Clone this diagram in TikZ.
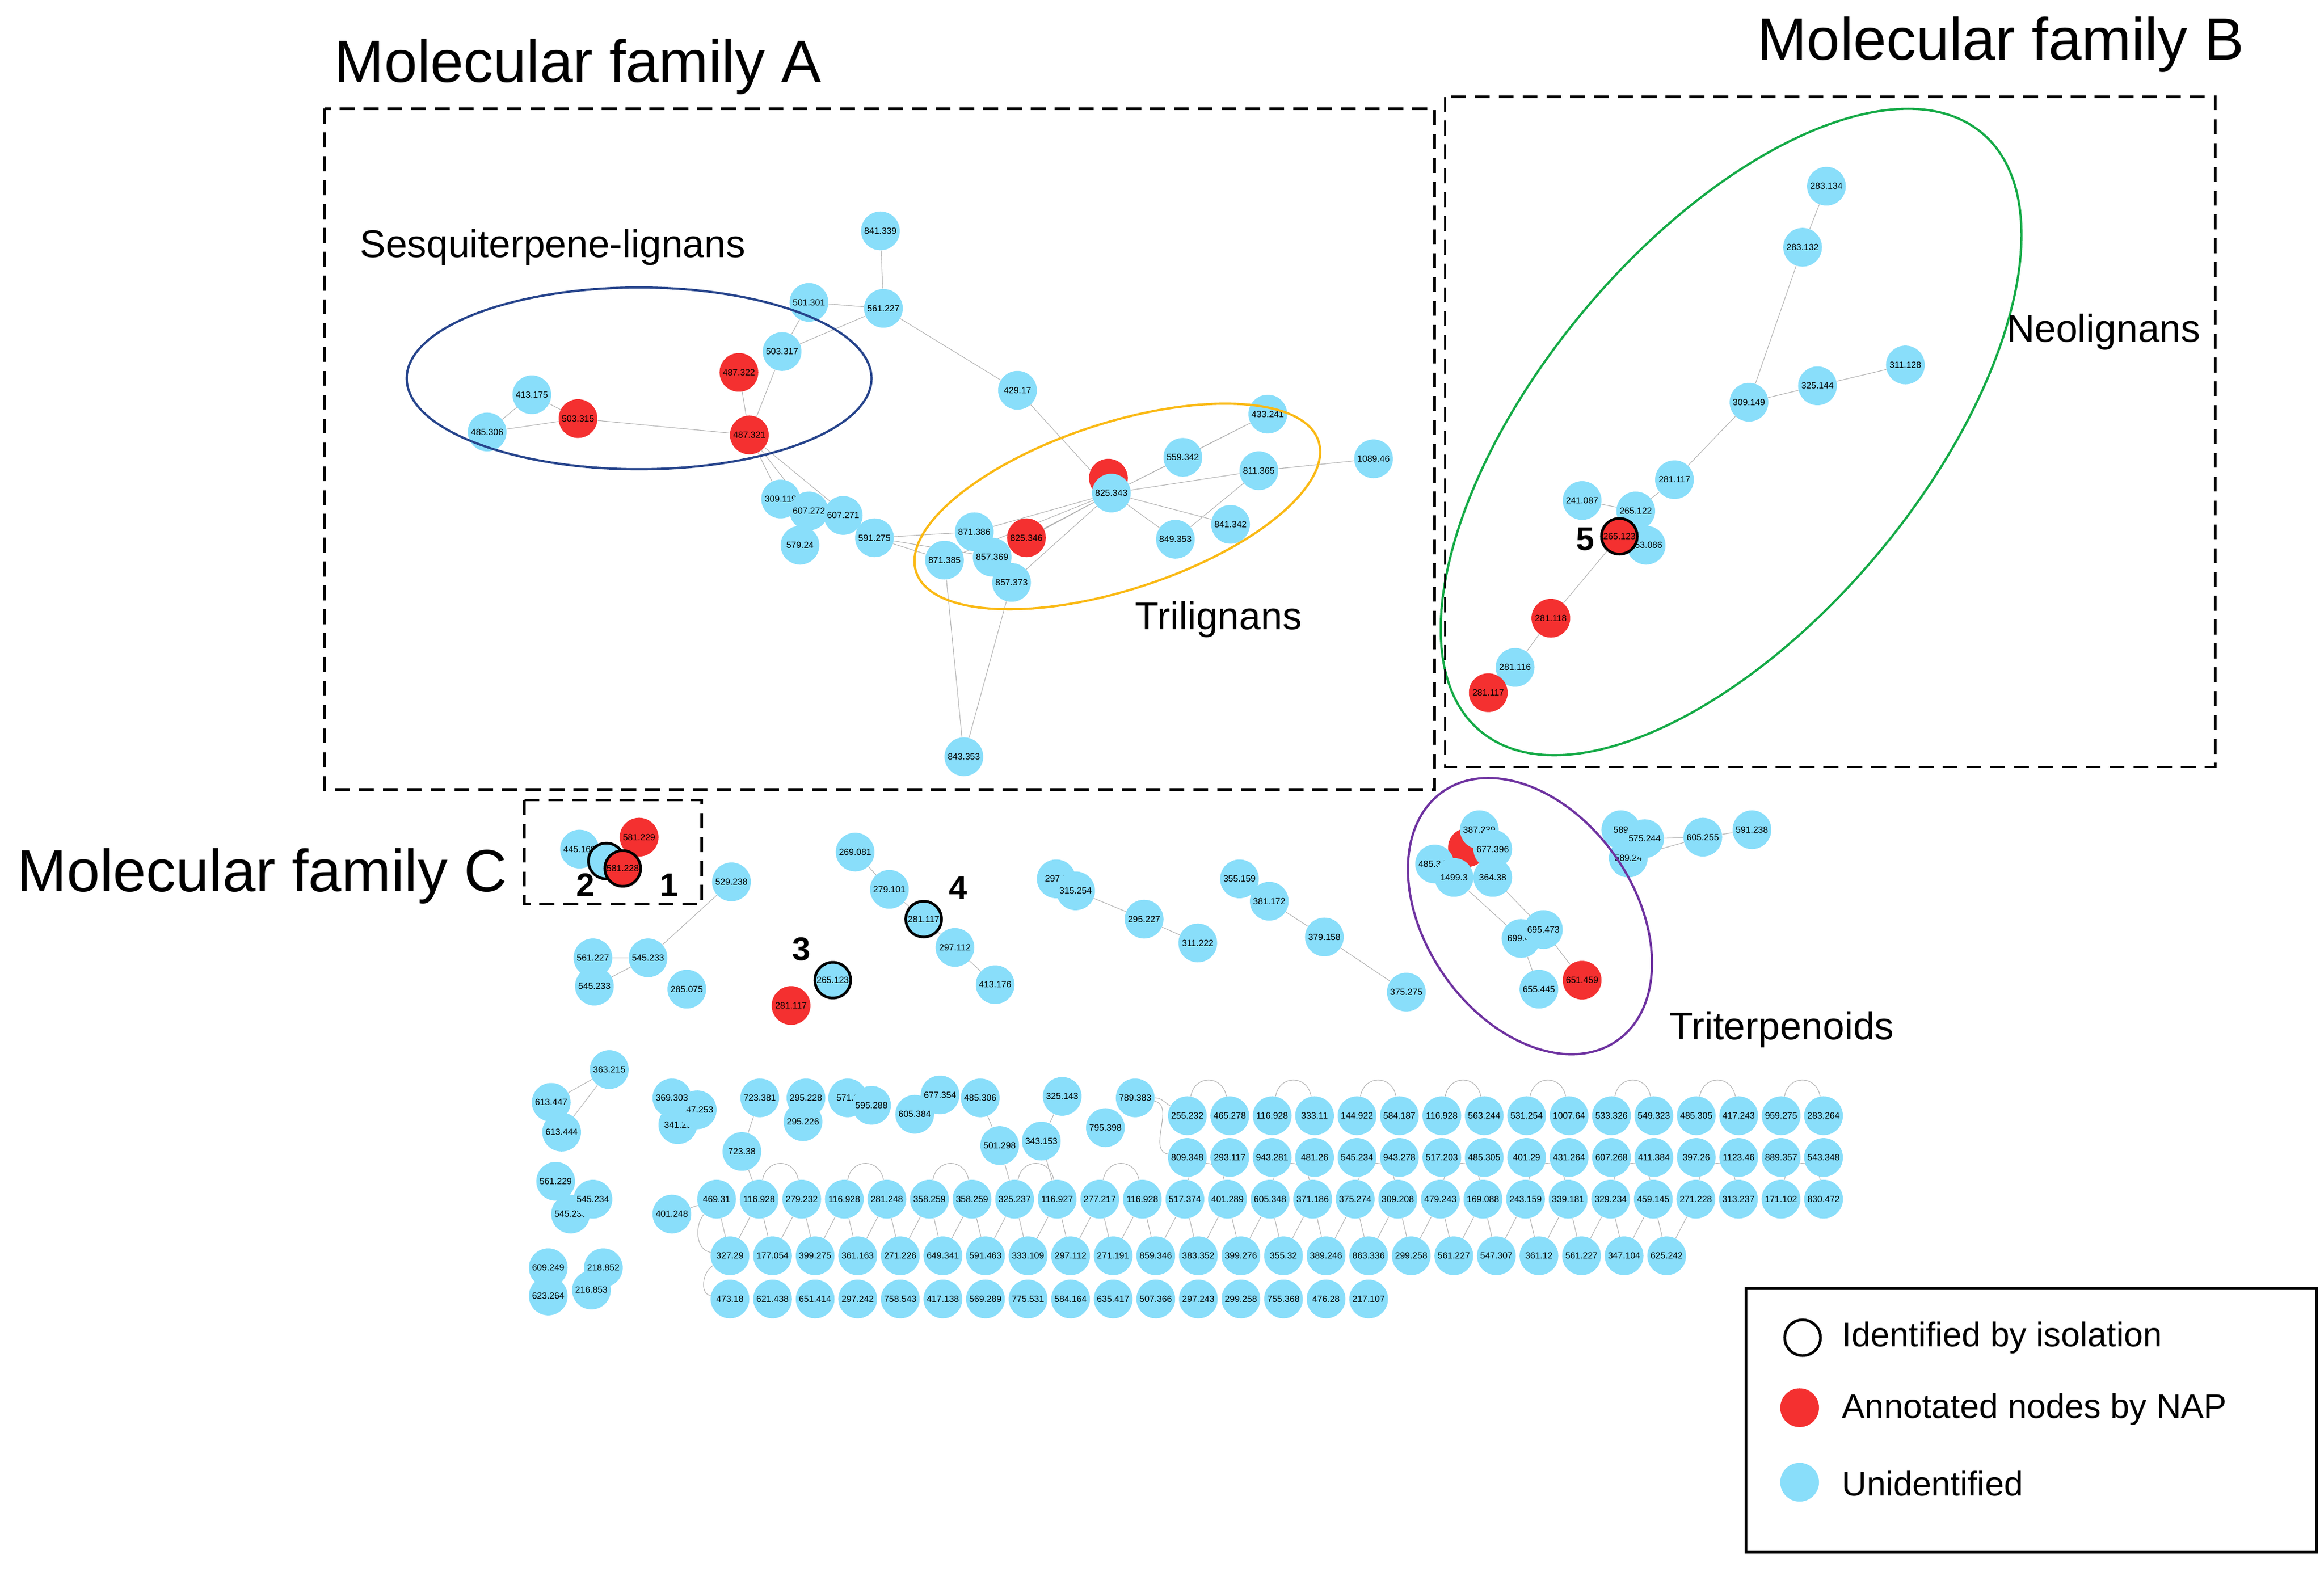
\documentclass[tikz,border=0pt]{standalone}
\usepackage{fontspec}
\setmainfont{Liberation Sans}
\usetikzlibrary{backgrounds}
\definecolor{nblue}{RGB}{137,222,250}
\definecolor{nred}{RGB}{244,48,48}
\definecolor{dblue}{RGB}{38,68,140}
\definecolor{orng}{RGB}{250,185,20}
\definecolor{grn}{RGB}{20,170,70}
\definecolor{purp}{RGB}{110,50,160}
\begin{document}
\begin{tikzpicture}[x=1pt,y=1pt,
  nd/.style={circle,minimum size=26pt,inner sep=0pt,font=\fontsize{6}{6}\selectfont},
  nb/.style={nd,fill=nblue},
  nr/.style={nd,fill=nred},
  iso/.style={draw=black,line width=1.8pt,minimum size=24pt},
  ed/.style={draw=gray!60,line width=0.4pt},
  box/.style={draw=black,dashed,line width=1.6pt,dash pattern=on 10pt off 6pt},
  ttl/.style={font=\fontsize{40}{40}\selectfont},
  sub/.style={font=\fontsize{26}{26}\selectfont},
  num/.style={font=\fontsize{22}{22}\selectfont\bfseries},
  leg/.style={font=\fontsize{23}{23}\selectfont,anchor=west}]
\useasboundingbox (0,0) rectangle (1560,-1055);

% ---------- family A ----------
\node[nb] (a1) at (591,-155) {841.339};
\node[nb] (a2) at (543,-203) {501.301};
\node[nb] (a3) at (593,-207) {561.227};
\node[nb] (a4) at (525,-236) {503.317};
\node[nr] (a5) at (496,-250) {487.322};
\node[nb] (a6) at (357,-265) {413.175};
\node[nr] (a7) at (388,-281) {503.315};
\node[nb] (a8) at (327,-290) {485.306};
\node[nr] (a9) at (503,-292) {487.321};
\node[nb] (a10) at (683,-262) {429.17};
\node[nb] (a11) at (524,-335) {309.119};
\node[nb] (a12) at (543,-343) {607.272};
\node[nb] (a13) at (566,-346) {607.271};
\node[nb] (a14) at (537,-366) {579.24};
\node[nb] (a15) at (587,-361) {591.275};
\node[nb] (a16) at (654,-357) {871.386};
\node[nr] (a17) at (689,-361) {825.346};
\node[nb] (a18) at (634,-376) {871.385};
\node[nb] (a20) at (679,-391) {857.373};
\node[nb] (a19) at (666,-374) {857.369};
\node[nr] (a21) at (744,-321) {};
\node[nb] (a22) at (746,-331) {825.343};
\node[nb] (a23) at (794,-307) {559.342};
\node[nb] (a24) at (851,-278) {433.241};
\node[nb] (a25) at (845,-316) {811.365};
\node[nb] (a26) at (922,-308) {1089.46};
\node[nb] (a27) at (826,-352) {841.342};
\node[nb] (a28) at (789,-362) {849.353};
\node[nb] (a29) at (647,-508) {843.353};

% ---------- family B ----------
\node[nb] (b1) at (1226,-125) {283.134};
\node[nb] (b2) at (1210,-166) {283.132};
\node[nb] (b3) at (1174,-270) {309.149};
\node[nb] (b4) at (1220,-259) {325.144};
\node[nb] (b5) at (1279,-245) {311.128};
\node[nb] (b6) at (1124,-322) {281.117};
\node[nb] (b7) at (1062,-336) {241.087};
\node[nb] (b8) at (1098,-343) {265.122};
\node[nb] (b9) at (1105,-366) {253.086};
\node[nr,iso] (b10) at (1087,-360) {265.123};
\node[nr] (b11) at (1041,-415) {281.118};
\node[nb] (b12) at (1017,-448) {281.116};
\node[nr] (b13) at (999,-465) {281.117};

% ---------- family C and middle ----------
\node[nb] (c1) at (389,-570) {445.168};
\node[nb,iso] (c2) at (407,-578) {};
\node[nr] (c3) at (429,-562) {581.229};
\node[nr,iso] (c4) at (418,-583) {581.228};
\node[nb] (c5) at (491,-592) {529.238};
\node[nb] (c6) at (398,-643) {561.227};
\node[nb] (c8) at (399,-662) {545.233};
\node[nb] (c7) at (435,-643) {545.233};
\node[nb] (c9) at (461,-664) {285.075};

\node[nb] (m1) at (574,-572) {269.081};
\node[nb] (m2) at (597,-597) {279.101};
\node[nb,iso] (m3) at (620,-617) {281.117};
\node[nb] (m4) at (641,-636) {297.112};
\node[nb] (m5) at (668,-661) {413.176};
\node[nr] (m7) at (531,-675) {281.117};
\node[nb,iso] (m6) at (559,-658) {265.123};

\node[nb] (p1) at (709,-590) {297.2};
\node[nb] (p2) at (722,-598) {315.254};
\node[nb] (p3) at (768,-617) {295.227};
\node[nb] (p4) at (804,-633) {311.222};
\node[nb] (q1) at (832,-590) {355.159};
\node[nb] (q2) at (852,-605) {381.172};
\node[nb] (q3) at (889,-629) {379.158};
\node[nb] (q4) at (944,-666) {375.275};

% triterpenoids
\node[nr] (t0) at (985,-569) {};
\node[nb] (t1) at (993,-557) {387.239};
\node[nb] (t2) at (1002,-570) {677.396};
\node[nb] (t3) at (963,-580) {485.349};
\node[nb] (t4) at (976,-589) {1499.3};
\node[nb] (t5) at (1002,-589) {364.38};
\node[nb] (t6) at (1021,-630) {699.45};
\node[nb] (t7) at (1036,-624) {695.473};
\node[nb] (t8) at (1033,-664) {655.445};
\node[nr] (t9) at (1062,-658) {651.459};
\node[nb] (u3) at (1093,-576) {589.24};
\node[nb] (u1) at (1088,-557) {589};
\node[nb] (u2) at (1104,-563) {575.244};
\node[nb] (u4) at (1143,-562) {605.255};
\node[nb] (u5) at (1176,-557) {591.238};

% ---------- lower left ----------
\node[nb] (l1) at (409,-718) {363.215};
\node[nb] (l2) at (370,-740) {613.447};
\node[nb] (l3) at (377,-760) {613.444};
\node[nb] (l4) at (455,-755) {341.25};
\node[nb] (l5) at (468,-745) {347.253};
\node[nb] (l6) at (451,-737) {369.303};
\node[nb] (l7) at (510,-737) {723.381};
\node[nb] (l8) at (498,-773) {723.38};
\node[nb] (l10) at (539,-753) {295.226};
\node[nb] (l9) at (541,-737) {295.228};
\node[nb] (l11) at (569,-737) {571.3};
\node[nb] (l12) at (585,-742) {595.288};
\node[nb] (l14) at (631,-735) {677.354};
\node[nb] (l13) at (614,-748) {605.384};
\node[nb] (l15) at (658,-737) {485.306};
\node[nb] (l16) at (671,-769) {501.298};
\node[nb] (l17) at (713,-736) {325.143};
\node[nb] (l18) at (699,-766) {343.153};
\node[nb] (l19) at (762,-737) {789.383};
\node[nb] (l20) at (742,-757) {795.398};
\node[nb] (l21) at (451,-815) {401.248};
\node[nb] (l24) at (383,-815) {545.233};
\node[nb] (l22) at (373,-793) {561.229};
\node[nb] (l23) at (398,-805) {545.234};
\node[nb] (l25) at (368,-851) {609.249};
\node[nb] (l26) at (368,-870) {623.264};
\node[nb] (l27) at (405,-851) {218.852};
\node[nb] (l28) at (397,-866) {216.853};

% ---------- grid ----------
\foreach \l [count=\i] in {255.232,465.278,116.928,333.11,144.922,584.187,116.928,563.244,531.254,1007.64,533.326,549.323,485.305,417.243,959.275,283.264}
  \node[nb] (ra\i) at ({797+(\i-1)*28.47},-749) {\l};
\foreach \l [count=\i] in {809.348,293.117,943.281,481.26,545.234,943.278,517.203,485.305,401.29,431.264,607.268,411.384,397.26,1123.46,889.357,543.348}
  \node[nb] (rb\i) at ({797+(\i-1)*28.47},-777) {\l};
\foreach \l [count=\i] in {469.31,116.928,279.232,116.928,281.248,358.259,358.259,325.237,116.927,277.217,116.928,517.374,401.289,605.348,371.186,375.274,309.208,479.243,169.088,243.159,339.181,329.234,459.145,271.228,313.237,171.102,830.472}
  \node[nb] (rc\i) at ({481+(\i-1)*28.58},-805) {\l};
\foreach \l [count=\i] in {327.29,177.054,399.275,361.163,271.226,649.341,591.463,333.109,297.112,271.191,859.346,383.352,399.276,355.32,389.246,863.336,299.258,561.227,547.307,361.12,561.227,347.104,625.242}
  \node[nb] (rd\i) at ({490+(\i-1)*28.58},-843) {\l};
\foreach \l [count=\i] in {473.18,621.438,651.414,297.242,758.543,417.138,569.289,775.531,584.164,635.417,507.366,297.243,299.258,755.368,476.28,217.107}
  \node[nb] (re\i) at ({490+(\i-1)*28.58},-872) {\l};

% ---------- edges ----------
\begin{scope}[on background layer]
\fill[white] (0,0) rectangle (1560,-1055);
\draw[ed] (a1)--(a3) (a2)--(a3) (a4)--(a3) (a2)--(a4) (a4)--(a9) (a5)--(a9)
  (a6)--(a7) (a8)--(a7) (a6)--(a8) (a7)--(a9) (a3)--(a10) (a10)--(a22)
  (a9)--(a11) (a9)--(a12) (a9)--(a15) (a15)--(a16) (a15)--(a18) (a15)--(a19)
  (a22)--(a16) (a22)--(a18) (a22)--(a17) (a22)--(a19) (a22)--(a20)
  (a22)--(a23) (a22)--(a24) (a22)--(a25) (a22)--(a27) (a22)--(a28)
  (a25)--(a26) (a25)--(a28) (a23)--(a24) (a18)--(a29) (a20)--(a29);
\draw[ed] (b1)--(b2) (b2)--(b3) (b3)--(b4) (b4)--(b5) (b3)--(b6) (b6)--(b8)
  (b7)--(b8) (b10)--(b11) (b11)--(b12) (b12)--(b13);
\draw[ed] (c5)--(c7) (c6)--(c7) (c8)--(c7);
\draw[ed] (m1)--(m2) (m2)--(m3) (m3)--(m4) (m4)--(m5);
\draw[ed] (p2)--(p3) (p3)--(p4) (q1)--(q2) (q2)--(q3) (q3)--(q4);
\draw[ed] (t4)--(t6) (t5)--(t7) (t6)--(t8) (t7)--(t9) (u2)--(u4) (u3)--(u4) (u4)--(u5);
\draw[ed] (l1)--(l2) (l1)--(l3) (l7)--(l8) (l15)--(l16) (l17)--(l18) (l21)--(rc1)
  (l8)--(rc2) (l16)--(rc8) (l18)--(rc9);
\draw[ed] (l19) to[out=0,in=150] (ra1);
\draw[ed] (l19) to[out=-10,in=170] (rb1);
\draw[ed] (rc1) to[out=-130,in=170] (rd1);
\draw[ed] (rd1) to[out=-150,in=170] (re1);
\foreach \i in {1,3,...,15} {\pgfmathtruncatemacro{\j}{\i+1}
  \draw[ed] (ra\i) to[out=80,in=100,looseness=1.6] (ra\j);}
\foreach \i in {2,4,...,26} {\pgfmathtruncatemacro{\j}{\i+1}
  \draw[ed] (rc\i) to[out=80,in=100,looseness=1.6] (rc\j);}
\foreach \i in {1,...,23} {\pgfmathtruncatemacro{\j}{\i+1}
  \draw[ed] (rc\i) -- (rd\i); \draw[ed] (rd\i) -- (rc\j);}
\end{scope}

% ---------- ellipses ----------
\draw[dblue,line width=1.5pt] (429,-254) ellipse [x radius=156, y radius=61];
\draw[orng,line width=1.5pt,rotate around={18:(750,-340)}] (750,-340) ellipse [x radius=142, y radius=56];
\draw[grn,line width=1.5pt,rotate around={50:(1162,-290)}] (1162,-290) ellipse [x radius=262, y radius=128];
\draw[purp,line width=1.5pt,rotate around={-55:(1027,-615)}] (1027,-615) ellipse [x radius=102, y radius=70];

% ---------- boxes ----------
\draw[box] (218,-73) rectangle (963,-530);
\draw[box] (970,-65) rectangle (1487,-515);
\draw[box] (352,-537) rectangle (471,-607);

% ---------- texts ----------
\node[ttl] at (388,-45) {Molecular family A};
\node[ttl] at (1343,-30) {Molecular family B};
\node[ttl] at (176,-588) {Molecular family C};
\node[sub] at (371,-166) {Sesquiterpene-lignans};
\node[sub] at (818,-416) {Trilignans};
\node[sub] at (1412,-223) {Neolignans};
\node[sub] at (1196,-691) {Triterpenoids};
\node[num] at (393,-594) {2};
\node[num] at (449,-594) {1};
\node[num] at (538,-637) {3};
\node[num] at (643,-596) {4};
\node[num] at (1064,-362) {5};

% ---------- legend ----------
\draw[line width=1.8pt] (1172,-865) rectangle (1555,-1042);
\node[nd,draw=black,line width=1.8pt,minimum size=24pt] (k1) at (1210,-898) {};
\node[nr] (k2) at (1208,-945) {};
\node[nb] (k3) at (1208,-995) {};
\node[leg] at (1233,-898) {Identified by isolation};
\node[leg] at (1233,-946) {Annotated nodes by NAP};
\node[leg] at (1233,-996) {Unidentified};
\end{tikzpicture}
\end{document}
